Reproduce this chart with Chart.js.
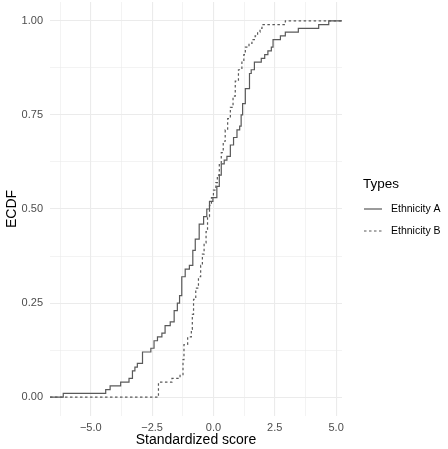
<!DOCTYPE html>
<html>
<head>
<meta charset="utf-8">
<script src="https://cdn.jsdelivr.net/npm/chart.js@4.4.1/dist/chart.umd.min.js"></script>
<style>
  html, body { margin: 0; padding: 0; background: #fff; }
  #wrap { width: 448px; height: 449px; }
</style>
</head>
<body>
<div id="wrap"><canvas id="ecdf-chart" width="448" height="449"></canvas></div>
<script>
// series names
const seriesNames = ["Ethnicity A", "Ethnicity B"];

// step positions (standardized score) and ECDF level after each step
const scoresA = [-6.12, -4.39, -4.21, -3.78, -3.44, -3.30, -3.20, -3.10, -2.89, -2.55,
  -2.42, -2.28, -2.10, -1.97, -1.76, -1.60, -1.47, -1.38, -1.29, -1.15,
  -0.98, -0.84, -0.74, -0.58, -0.40, -0.27, -0.16, -0.02, 0.14, 0.24,
  0.32, 0.44, 0.55, 0.69, 0.82, 0.96, 1.07, 1.13, 1.19, 1.30,
  1.47, 1.54, 1.67, 1.95, 2.09, 2.22, 2.36, 2.43, 2.73, 2.93,
  3.46, 4.29, 4.70];
const ecdfA = [0.01, 0.02, 0.03, 0.04, 0.05, 0.07, 0.08, 0.09, 0.12, 0.13,
  0.15, 0.16, 0.17, 0.19, 0.20, 0.23, 0.25, 0.27, 0.32, 0.34,
  0.35, 0.39, 0.42, 0.46, 0.48, 0.50, 0.52, 0.53, 0.56, 0.59,
  0.62, 0.63, 0.64, 0.67, 0.69, 0.71, 0.72, 0.75, 0.78, 0.82,
  0.86, 0.87, 0.89, 0.90, 0.91, 0.92, 0.93, 0.95, 0.96, 0.97,
  0.98, 0.99, 1.00];

const scoresB = [-2.24, -1.69, -1.36, -1.24, -1.20, -1.05, -0.90, -0.86, -0.81, -0.72,
  -0.61, -0.52, -0.45, -0.38, -0.30, -0.24, -0.16, -0.08, 0.00, 0.10,
  0.16, 0.24, 0.32, 0.40, 0.48, 0.58, 0.69, 0.80, 0.89, 1.02,
  1.16, 1.24, 1.30, 1.45, 1.57, 1.70, 1.80, 1.90, 1.98, 2.93];
const ecdfB = [0.04, 0.05, 0.06, 0.10, 0.14, 0.16, 0.18, 0.22, 0.26, 0.29,
  0.32, 0.35, 0.38, 0.41, 0.44, 0.48, 0.51, 0.53, 0.55, 0.57,
  0.59, 0.62, 0.65, 0.68, 0.71, 0.74, 0.77, 0.80, 0.84, 0.87,
  0.89, 0.91, 0.93, 0.94, 0.95, 0.96, 0.97, 0.98, 0.99, 1.00];

// axis ticks
const xTicks = [-5, -2.5, 0, 2.5, 5];
const xMinorTicks = [-6.25, -3.75, -1.25, 1.25, 3.75];
const yTicks = [0, 0.25, 0.5, 0.75, 1];
const yMinorTicks = [0.125, 0.375, 0.625, 0.875];
const xRange = [-6.66, 5.24];
const yRange = [-0.05, 1.05];

const lineColor = "#595959";
const fontFamily = "'Liberation Sans', Arial, Helvetica, sans-serif";

// ecdf runs from -Inf to +Inf like ggplot's stat_ecdf
function toSteps(xs, ys) {
  const pts = [{ x: xRange[0], y: 0 }];
  xs.forEach((x, i) => pts.push({ x: x, y: ys[i] }));
  pts.push({ x: xRange[1], y: ys[ys.length - 1] });
  return pts;
}

function fmtMinus(s) {
  return s.replace("-", "\u2212");
}

const isMajor = (list, v) => list.some((t) => Math.abs(t - v) < 1e-6);

// axis titles and legend drawn by hand, ggplot style
const decorations = {
  id: "decorations",
  afterDraw(chart) {
    const ctx = chart.ctx;
    ctx.save();
    ctx.fillStyle = "#000";
    ctx.textAlign = "center";
    ctx.textBaseline = "middle";
    ctx.font = "14px " + fontFamily;
    ctx.fillText("Standardized score", 196, 440);
    ctx.save();
    ctx.translate(12, 209);
    ctx.rotate(-Math.PI / 2);
    ctx.fillText("ECDF", 0, 0);
    ctx.restore();

    ctx.textAlign = "left";
    ctx.font = "13.5px " + fontFamily;
    ctx.fillText("Types", 363, 184);

    ctx.font = "10.5px " + fontFamily;
    ctx.fillStyle = "#000";
    ctx.fillText(seriesNames[0], 391, 209);
    ctx.fillText(seriesNames[1], 391, 231);

    ctx.strokeStyle = lineColor;
    ctx.lineWidth = 1.2;
    ctx.beginPath();
    ctx.moveTo(364, 209);
    ctx.lineTo(382, 209);
    ctx.stroke();
    ctx.setLineDash([2.5, 2.5]);
    ctx.beginPath();
    ctx.moveTo(364, 231);
    ctx.lineTo(382, 231);
    ctx.stroke();
    ctx.restore();
  },
};

const config = {
  type: "scatter",
  data: {
    datasets: [
      {
        label: seriesNames[0],
        data: toSteps(scoresA, ecdfA),
        showLine: true,
        stepped: true,
        borderColor: lineColor,
        borderWidth: 1.2,
        pointRadius: 0,
        fill: false,
      },
      {
        label: seriesNames[1],
        data: toSteps(scoresB, ecdfB),
        showLine: true,
        stepped: true,
        borderColor: lineColor,
        borderWidth: 1.2,
        borderDash: [2.5, 2.5],
        pointRadius: 0,
        fill: false,
      },
    ],
  },
  options: {
    responsive: false,
    animation: false,
    layout: { padding: { top: 2, right: 106, left: 0, bottom: 0 } },
    plugins: {
      legend: { display: false },
      tooltip: { enabled: false },
    },
    scales: {
      x: {
        type: "linear",
        min: xRange[0],
        max: xRange[1],
        afterBuildTicks: (axis) => {
          axis.ticks = xTicks.concat(xMinorTicks).sort((a, b) => a - b).map((v) => ({ value: v }));
        },
        afterFit: (scale) => {
          scale.height = 33;
          scale.paddingLeft = 0;
          scale.paddingRight = 0;
        },
        border: { display: false },
        grid: {
          drawTicks: false,
          color: "#ebebeb",
          lineWidth: (c) => (c.tick && isMajor(xTicks, c.tick.value) ? 1.1 : 0.6),
        },
        ticks: {
          autoSkip: false,
          maxRotation: 0,
          padding: 5,
          color: "#4d4d4d",
          font: { size: 11, family: fontFamily },
          callback: (v) => (isMajor(xTicks, v) ? fmtMinus(v.toFixed(1)) : ""),
        },
      },
      y: {
        type: "linear",
        min: yRange[0],
        max: yRange[1],
        afterBuildTicks: (axis) => {
          axis.ticks = yTicks.concat(yMinorTicks).sort((a, b) => a - b).map((v) => ({ value: v }));
        },
        afterFit: (scale) => {
          scale.width = 50;
          scale.paddingTop = 0;
          scale.paddingBottom = 0;
        },
        border: { display: false },
        grid: {
          drawTicks: false,
          color: "#ebebeb",
          lineWidth: (c) => (c.tick && isMajor(yTicks, c.tick.value) ? 1.1 : 0.6),
        },
        ticks: {
          autoSkip: false,
          padding: 7,
          color: "#4d4d4d",
          font: { size: 11, family: fontFamily },
          callback: (v) => (isMajor(yTicks, v) ? v.toFixed(2) : ""),
        },
      },
    },
  },
  plugins: [decorations],
};

const ctx = document.getElementById("ecdf-chart").getContext("2d");
window.ecdfChart = new Chart(ctx, config);
</script>
</body>
</html>
